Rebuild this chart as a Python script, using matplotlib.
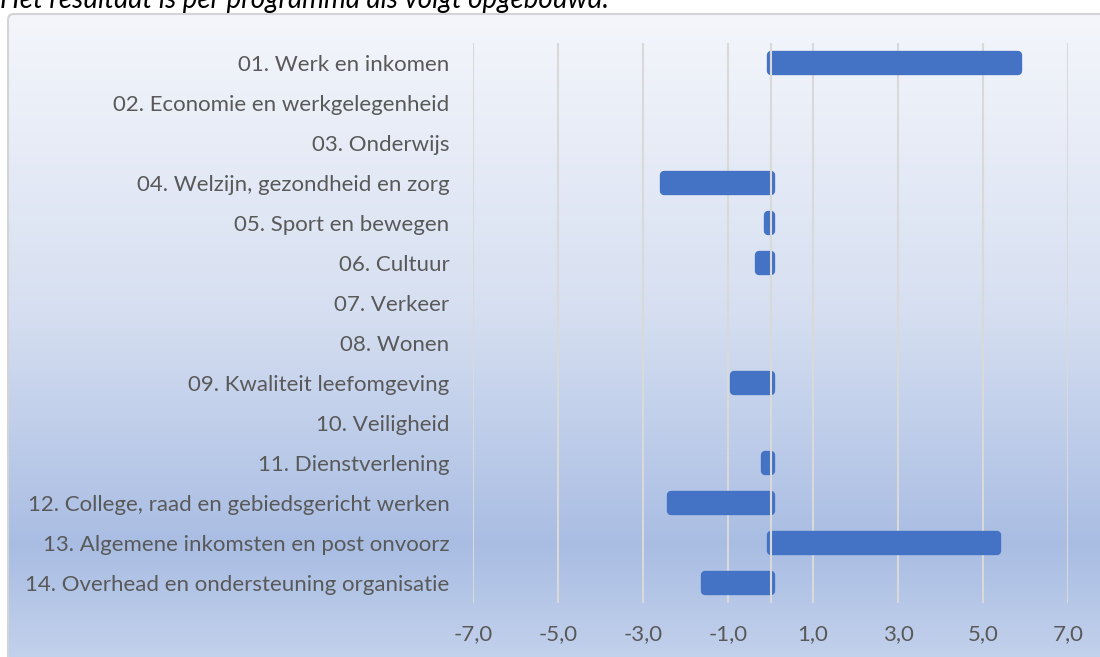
import numpy as np
import matplotlib
matplotlib.use('Agg')
import matplotlib.pyplot as plt
from matplotlib.colors import LinearSegmentedColormap
from matplotlib.patches import FancyBboxPatch

# results per programme (millions)
programmes = [
    "01. Werk en inkomen",
    "02. Economie en werkgelegenheid",
    "03. Onderwijs",
    "04. Welzijn, gezondheid en zorg",
    "05. Sport en bewegen",
    "06. Cultuur",
    "07. Verkeer",
    "08. Wonen",
    "09. Kwaliteit leefomgeving",
    "10. Veiligheid",
    "11. Dienstverlening",
    "12. College, raad en gebiedsgericht werken",
    "13. Algemene inkomsten en post onvoorz",
    "14. Overhead en ondersteuning organisatie",
]
values = [5.82, None, None, -2.5, -0.05, -0.27, None, None, -0.85, None, -0.12, -2.35, 5.32, -1.53]
xticks = [-7, -5, -3, -1, 1, 3, 5, 7]

plt.rcParams['font.family'] = ['Lato', 'DejaVu Sans']

W, H = 1100, 657
fig = plt.figure(figsize=(W / 100, H / 100), dpi=100)
fig.patch.set_facecolor('white')

# chart area background with excel style gradient
bg = fig.add_axes([0, 0, 1, 1], zorder=-5)
bg.set_xlim(0, W)
bg.set_ylim(H, 0)
bg.axis('off')
grad = LinearSegmentedColormap.from_list(
    'xl', [(0, '#f4f6fb'), (0.45, '#d6dff1'), (0.8, '#a9bde3'), (1.0, '#c6d4ed')])
g = np.linspace(0, 1, 256).reshape(-1, 1)
bg.imshow(g, cmap=grad, aspect='auto', extent=(8, W + 20, H + 20, 14), zorder=0)
bg.add_patch(FancyBboxPatch((8, 14), W + 20, H + 20, boxstyle='round,pad=0,rounding_size=6',
                            fill=False, edgecolor='#d4d4d4', linewidth=1.5, zorder=1))

# title sits partly above the picture, as in the screenshot
bg.text(0, 8, "Het resultaat is per programma als volgt opgebouwd:", fontsize=20,
        style='italic', color='black', va='baseline', ha='left')

ax = fig.add_axes([473 / W, 1 - 603 / H, (1068 - 473) / W, (603 - 43) / H])
ax.patch.set_alpha(0)

ypos = np.arange(len(programmes))
vals = [0 if v is None else v for v in values]
shown = [v is not None for v in values]
bars = ax.barh(ypos, vals, height=0.4, color='#4472c4', edgecolor='#4472c4',
               linewidth=6, zorder=2)
for b, s in zip(bars, shown):
    b.set_joinstyle('round')
    if not s:
        b.set_visible(False)

ax.set_xlim(-7, 7)
ax.set_ylim(13.5, -0.5)
ax.set_xticks(xticks)
ax.set_xticklabels([f"{t:.1f}".replace('.', ',') for t in xticks])
ax.set_yticks(ypos)
ax.set_yticklabels(programmes)
ax.tick_params(axis='both', length=0, labelsize=16, labelcolor='#595959')
ax.tick_params(axis='y', pad=17)
ax.tick_params(axis='x', pad=15)

ax.grid(axis='x', color='#d9d9d9', linewidth=1.5, zorder=1)
ax.axvline(0, color='#d9d9d9', linewidth=1.5, zorder=3)
ax.set_axisbelow(True)
for sp in ax.spines.values():
    sp.set_visible(False)

fig.savefig('out.png', dpi=100)
